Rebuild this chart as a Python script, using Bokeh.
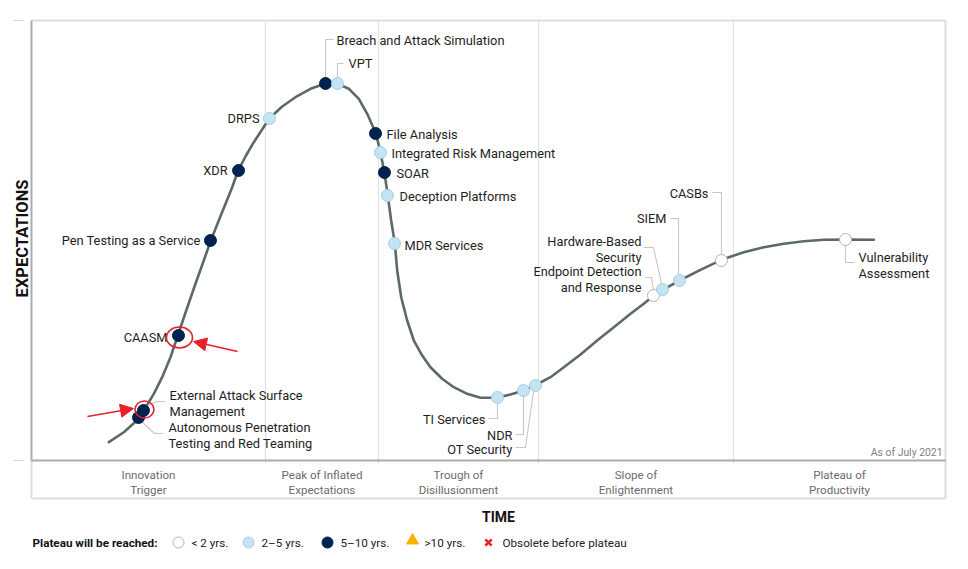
import numpy as np
from bokeh.plotting import figure
from bokeh.models import Range1d, Label, Arrow, NormalHead, ColumnDataSource
from bokeh.core.properties import value
from bokeh.embed import file_html
from bokeh.resources import INLINE

# ---------------- data (time 0-100, expectations 0-100) ----------------
curve_time = [8.46, 10.10, 11.74, 12.29, 13.38, 14.30, 15.21, 16.01, 16.93, 17.94,
              18.85, 19.62, 20.49, 21.23, 21.96, 22.61, 23.41, 24.32, 26.04, 27.43,
              28.88, 30.53, 32.09, 33.45, 34.72, 35.81, 36.73, 37.67, 38.18, 38.62,
              38.98, 39.35, 39.75, 40.01, 40.45, 41.10, 41.83, 42.75, 43.65, 44.93,
              46.20, 47.67, 49.12, 50.88, 52.41, 53.86, 55.07, 56.78, 58.24, 60.07,
              61.89, 63.71, 65.54, 66.99, 68.08, 69.07, 70.90, 73.19, 75.49, 77.93,
              80.12, 82.31, 84.50, 86.68, 88.98, 92.16]
curve_expect = [4.16, 6.43, 9.48, 11.36, 15.16, 18.93, 23.48, 28.41, 34.09, 40.16,
                45.45, 50.0, 54.55, 58.34, 62.11, 65.91, 69.09, 72.34, 77.80, 80.45,
                82.57, 84.48, 85.61, 85.61, 84.48, 82.20, 78.80, 74.39, 70.07, 65.30,
                60.23, 54.55, 49.39, 43.18, 37.11, 31.82, 27.27, 23.86, 21.20, 18.57,
                16.66, 15.16, 14.25, 14.25, 15.0, 15.91, 17.05, 18.93, 21.20, 24.09,
                27.27, 30.30, 33.34, 35.61, 37.5, 38.80, 40.91, 43.34, 45.61, 47.34,
                48.48, 49.25, 49.84, 50.16, 50.23, 50.16]

tech_names = ["Autonomous Penetration\nTesting and Red Teaming",
              "External Attack Surface\nManagement",
              "CAASM", "Pen Testing as a Service", "XDR", "DRPS",
              "Breach and Attack Simulation", "VPT", "File Analysis",
              "Integrated Risk Management", "SOAR", "Deception Platforms",
              "MDR Services", "TI Services", "NDR", "OT Security",
              "Endpoint Detection\nand Response", "Hardware-Based\nSecurity",
              "SIEM", "CASBs", "Vulnerability\nAssessment"]
tech_time = [11.71, 12.25, 16.08, 19.58, 22.65, 26.04, 32.17, 33.48, 37.64, 38.18,
             38.62, 38.95, 39.72, 50.98, 53.83, 55.14, 68.05, 69.04, 70.90, 75.49,
             89.06]
tech_expect = [9.77, 11.36, 28.41, 50.0, 65.91, 77.73, 85.68, 85.68, 74.32, 70.0,
               65.45, 60.23, 49.32, 14.32, 15.91, 17.05, 37.5, 38.86, 40.91, 45.45,
               50.23]
tech_plateau = ["5-10", "5-10", "5-10", "5-10", "5-10", "2-5", "5-10", "2-5", "5-10",
                "2-5", "5-10", "2-5", "2-5", "2-5", "2-5", "2-5", "<2", "2-5", "2-5",
                "<2", "<2"]

phase_names = ["Innovation\nTrigger", "Peak of Inflated\nExpectations",
               "Trough of\nDisillusionment", "Slope of\nEnlightenment",
               "Plateau of\nProductivity"]
phase_edges = [0, 25.6, 37.96, 55.47, 76.8, 100]

legend_title = "Plateau will be reached:"
legend_labels = ["< 2 yrs.", "2–5 yrs.", "5–10 yrs.", ">10 yrs.", "Obsolete before plateau"]

# ---------------- layout ----------------
W, H = 952, 552
PXX, PXY = 9.14, 4.4          # pixels per data unit
OX, OY = 31, 460              # pixel of data origin

def X(px):
    return (px - OX) / PXX

def Y(py):
    return (OY - py) / PXY

FONT = "Roboto"
TXT = "#1e1e1e"
LH = 1.02

# label layout: offset from dot (px, y down), alignment, leader offsets
label_layout = {
    "Autonomous Penetration\nTesting and Red Teaming": (30, 18, "left", [(3, 4), (16, 16), (25, 16)]),
    "External Attack Surface\nManagement": (26, -7, "left", [(4, -5), (14, -9), (22, -9)]),
    "CAASM": (-11, 2, "right", None),
    "Pen Testing as a Service": (-10, 0, "right", None),
    "XDR": (-11, 0, "right", None),
    "DRPS": (-10, 0, "right", None),
    "Breach and Attack Simulation": (11, -43, "left", [(0, -6), (0, -44), (8, -44)]),
    "VPT": (11, -20, "left", [(0, -6), (0, -20), (6, -20)]),
    "File Analysis": (11, 1, "left", None),
    "Integrated Risk Management": (11, 1, "left", None),
    "SOAR": (12, 1, "left", None),
    "Deception Platforms": (12, 1, "left", None),
    "MDR Services": (10, 2, "left", None),
    "TI Services": (-12, 22, "right", [(0, 6), (0, 21), (-9, 21)]),
    "NDR": (-11, 45, "right", [(0, 6), (0, 44), (-8, 44)]),
    "OT Security": (-23, 64, "right", [(-2, 6), (-10, 62), (-20, 62)]),
    "Endpoint Detection\nand Response": (-12, -16, "right", [(-8, -18), (-2, -18), (0, -6)]),
    "Hardware-Based\nSecurity": (-21, -40, "right", [(-19, -42), (-9, -42), (-1, -6)]),
    "SIEM": (-13, -62, "right", [(-9, -62), (-1, -62), (-1, -6)]),
    "CASBs": (-13, -67, "right", [(-9, -68), (0, -68), (0, -6)]),
    "Vulnerability\nAssessment": (13, 26, "left", [(0, 6), (0, 23), (9, 23)]),
}

fill_map = {"<2": "#ffffff", "2-5": "#c4e4f3", "5-10": "#00224f"}
line_map = {"<2": "#b3b3b3", "2-5": "#a3cde0", "5-10": "#00224f"}

p = figure(width=W, height=H, x_range=Range1d(X(0), X(W)),
           y_range=Range1d(Y(H), Y(0)), toolbar_location=None,
           output_backend="svg", min_border=0, min_border_left=0,
           min_border_right=0, min_border_top=0, min_border_bottom=0)
p.axis.visible = False
p.grid.visible = False
p.outline_line_color = None
p.background_fill_color = "white"
p.border_fill_color = "white"

band_bottom = Y(498)
light = "#dedede"
# frame
p.segment(x0=[0, 100, 0, 0], y0=[100, 100, band_bottom, 0],
          x1=[100, 100, 100, 0], y1=[100, band_bottom, band_bottom, band_bottom],
          line_color=light, line_width=2)
# phase separators
p.segment(x0=phase_edges[1:-1], y0=[100] * 4, x1=phase_edges[1:-1], y1=[Y(463)] * 4,
          line_color="#e2e2e2", line_width=1.2)
# axes
p.segment(x0=[0, 0], y0=[0, 100], x1=[100, 0], y1=[0, 0],
          line_color="#ababab", line_width=2)
# outer ticks
p.segment(x0=[X(13), X(13)], y0=[100, 0], x1=[X(23), X(23)], y1=[100, 0],
          line_color="#d6d6d6", line_width=1.2)

# phase labels
mids = [(phase_edges[i] + phase_edges[i + 1]) / 2 for i in range(5)]
p.text(x=mids, y=[Y(482)] * 5, text=phase_names, text_align="center",
       text_baseline="middle", text_font=value(FONT), text_font_size="11.6px",
       text_color="#6b6b6b", text_line_height=LH)

p.text(x=[X(942)], y=[Y(452)], text=["As of July 2021"], text_align="right",
       text_baseline="middle", text_font=value(FONT), text_font_size="10.4px",
       text_color="#808080")

# curve
p.line(curve_time, curve_expect, line_color="#5d6969", line_width=2.6,
       line_join="round", line_cap="round")

# leader lines
lx, ly = [], []
for n, t, e in zip(tech_names, tech_time, tech_expect):
    lead = label_layout[n][3]
    if lead:
        lx.append([t + ox / PXX for ox, oy in lead])
        ly.append([e - oy / PXY for ox, oy in lead])
p.multi_line(lx, ly, line_color="#c6c6c6", line_width=1.1)

# dots
src = ColumnDataSource(dict(x=tech_time, y=tech_expect,
                            fill=[fill_map[c] for c in tech_plateau],
                            line=[line_map[c] for c in tech_plateau]))
p.scatter("x", "y", source=src, size=12, fill_color="fill", line_color="line",
          line_width=1)

# labels
for align in ("left", "right"):
    idx = [i for i, n in enumerate(tech_names) if label_layout[n][2] == align]
    s = ColumnDataSource(dict(
        x=[tech_time[i] for i in idx], y=[tech_expect[i] for i in idx],
        text=[tech_names[i] for i in idx],
        dx=[label_layout[tech_names[i]][0] for i in idx],
        dy=[label_layout[tech_names[i]][1] for i in idx]))
    p.text("x", "y", text="text", source=s, x_offset="dx", y_offset="dy",
           text_align=align, text_baseline="middle", text_font=value(FONT),
           text_font_size="12.8px", text_color=TXT, text_line_height=LH)

# red highlight ellipses + arrows
red = "#e62129"
ci = tech_names.index("CAASM")
ei = tech_names.index("External Attack Surface\nManagement")
p.ellipse(x=[tech_time[ci] + 1 / PXX, tech_time[ei] + 1 / PXX],
          y=[tech_expect[ci] - 2 / PXY, tech_expect[ei] + 1 / PXY],
          width=[26, 19], height=[21, 17], width_units="screen",
          height_units="screen", fill_color=None, line_color=red, line_width=1.6)
p.add_layout(Arrow(end=NormalHead(size=13, fill_color=red, line_color=red),
                   x_start=X(237), y_start=Y(351), x_end=X(193), y_end=Y(341),
                   line_color=red, line_width=1.6))
p.add_layout(Arrow(end=NormalHead(size=13, fill_color=red, line_color=red),
                   x_start=X(87), y_start=Y(416), x_end=X(133), y_end=Y(408),
                   line_color=red, line_width=1.6))

# axis titles
p.add_layout(Label(x=X(22), y=Y(238), text="EXPECTATIONS", angle=np.pi / 2,
                   text_align="center", text_baseline="middle",
                   text_font=FONT, text_font_size="16.5px", text_font_style="bold",
                   text_color="#111111"))
p.add_layout(Label(x=X(498), y=Y(516), text="TIME", text_align="center",
                   text_baseline="middle", text_font=FONT, text_font_size="14px",
                   text_font_style="bold", text_color="#111111"))

# legend
ly_ = Y(542)
p.add_layout(Label(x=X(32), y=ly_, text=legend_title, text_align="left",
                   text_baseline="middle", text_font=FONT, text_font_size="11.7px",
                   text_font_style="bold", text_color="#111111"))
p.scatter([X(178), X(248), X(327)], [ly_] * 3, size=11,
          fill_color=["#ffffff", "#c4e4f3", "#00224f"],
          line_color=["#b3b3b3", "#a3cde0", "#00224f"], line_width=1)
p.scatter([X(412)], [Y(540)], marker="triangle", size=12, fill_color="#f4b400",
          line_color="#f4b400")
p.scatter([X(488)], [ly_], marker="x", size=9, line_color=red, line_width=2.6)
p.text(x=[X(191), X(261), X(340), X(424), X(502)], y=[ly_] * 5, text=legend_labels,
       text_align="left", text_baseline="middle", text_font=value(FONT),
       text_font_size="11.7px", text_color="#222222")

open("out.html", "w").write(file_html(p, INLINE))
